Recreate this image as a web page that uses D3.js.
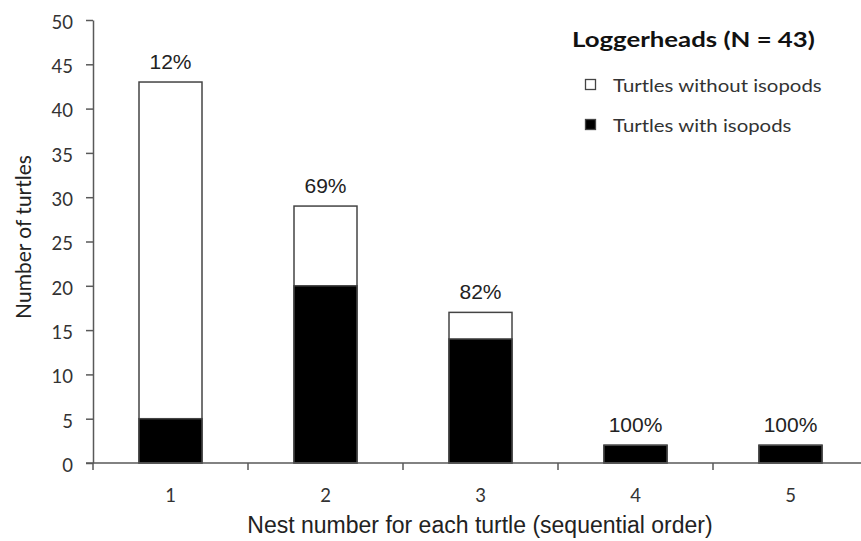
<!DOCTYPE html>
<html>
<head>
<meta charset="utf-8">
<script src="https://cdn.jsdelivr.net/npm/d3@7"></script>
<style>
  body { margin: 0; background: #fff; }
  svg { display: block; }
</style>
</head>
<body>
<script>
// Chart size
const width = 861;
const height = 541;

// Nest number (sequential order)
const nests = ["1", "2", "3", "4", "5"];
// Total turtles per nest number
const totals = [43, 29, 17, 2, 2];
// Turtles with isopods per nest number
const withIsopods = [5, 20, 14, 2, 2];
// Percent labels shown above bars
const pctLabels = ["12%", "69%", "82%", "100%", "100%"];
// Y-axis ticks
const yTicks = [0, 5, 10, 15, 20, 25, 30, 35, 40, 45, 50];

const AXIS_COLOR = "#595959";
const BAR_STROKE = "#444";
const SANS = "'Liberation Sans', Arial, sans-serif";
const CAL = "Lato, 'Open Sans', sans-serif";
const BAR_W = 63;

const svg = d3.select("body").append("svg")
    .attr("width", width)
    .attr("height", height);

// Bands of ~155px starting at the y axis (axis runs off the right edge)
const band = d3.scaleBand().domain(nests).range([93, 868]);
const y = d3.scaleLinear().domain([0, 50]).range([463, 20]);
const cx = d => band(d) + band.bandwidth() / 2;

// Bars: total (white) then isopods (black) on top
const bars = svg.append("g");
bars.selectAll("rect.total")
    .data(nests)
    .join("rect")
    .attr("class", "total")
    .attr("x", d => cx(d) - BAR_W / 2)
    .attr("width", BAR_W)
    .attr("y", (d, i) => y(totals[i]))
    .attr("height", (d, i) => y(0) - y(totals[i]))
    .attr("fill", "#fff")
    .attr("stroke", BAR_STROKE)
    .attr("stroke-width", 1.5);

bars.selectAll("rect.iso")
    .data(nests)
    .join("rect")
    .attr("class", "iso")
    .attr("x", d => cx(d) - BAR_W / 2)
    .attr("width", BAR_W)
    .attr("y", (d, i) => y(withIsopods[i]))
    .attr("height", (d, i) => y(0) - y(withIsopods[i]))
    .attr("fill", "#000")
    .attr("stroke", BAR_STROKE)
    .attr("stroke-width", 1.5);

// Percent labels
svg.append("g").selectAll("text")
    .data(nests)
    .join("text")
    .attr("x", cx)
    .attr("y", (d, i) => y(totals[i]) - 13)
    .attr("text-anchor", "middle")
    .attr("font-family", SANS)
    .attr("font-size", 21)
    .attr("fill", "#222")
    .text((d, i) => pctLabels[i]);

// Y axis
const yAxis = svg.append("g")
    .attr("transform", "translate(93,0)")
    .call(d3.axisLeft(y).tickValues(yTicks).tickSize(7).tickSizeOuter(0));
yAxis.select(".domain").attr("stroke", AXIS_COLOR).attr("stroke-width", 1.5);
yAxis.selectAll(".tick line").attr("stroke", AXIS_COLOR).attr("stroke-width", 1.5);
yAxis.selectAll(".tick text")
    .attr("font-family", CAL)
    .attr("font-size", 18.5)
    .attr("fill", "#333")
    .attr("x", -20)
    .attr("dy", "0.45em");

// X axis: ticks at band boundaries, labels centred in bands
const xAxisG = svg.append("g").attr("transform", `translate(0,${y(0)})`);
xAxisG.append("line")
    .attr("x1", 86).attr("x2", width)
    .attr("stroke", AXIS_COLOR).attr("stroke-width", 1.5);
xAxisG.selectAll("line.tk")
    .data(nests)
    .join("line")
    .attr("class", "tk")
    .attr("x1", d => band(d)).attr("x2", d => band(d))
    .attr("y1", 0).attr("y2", 7)
    .attr("stroke", AXIS_COLOR).attr("stroke-width", 1.5);
xAxisG.selectAll("text")
    .data(nests)
    .join("text")
    .attr("x", cx)
    .attr("y", 39)
    .attr("text-anchor", "middle")
    .attr("font-family", CAL)
    .attr("font-size", 18.5)
    .attr("fill", "#333")
    .text(d => d);

// Axis titles
svg.append("text")
    .attr("x", 480)
    .attr("y", 533)
    .attr("text-anchor", "middle")
    .attr("font-family", SANS)
    .attr("font-size", 23)
    .attr("fill", "#222")
    .text("Nest number for each turtle (sequential order)");

svg.append("text")
    .attr("transform", "translate(31,237) rotate(-90)")
    .attr("text-anchor", "middle")
    .attr("font-family", CAL)
    .attr("font-size", 21)
    .attr("fill", "#222")
    .text("Number of turtles");

// Legend (text slightly stretched horizontally like the reference)
const legend = svg.append("g");
legend.append("text")
    .attr("transform", "translate(572,47) scale(1.2,1)")
    .attr("font-family", CAL)
    .attr("font-weight", "bold")
    .attr("font-size", 21.5)
    .attr("fill", "#111")
    .text("Loggerheads (N = 43)");

const legendItems = [
    { label: "Turtles without isopods", fill: "#fff", y: 92 },
    { label: "Turtles with isopods", fill: "#000", y: 132 }
];
legendItems.forEach(item => {
    legend.append("rect")
        .attr("x", 585.5).attr("y", item.y - 12.5)
        .attr("width", 10).attr("height", 10)
        .attr("fill", item.fill)
        .attr("stroke", BAR_STROKE)
        .attr("stroke-width", 1.3);
    legend.append("text")
        .attr("transform", `translate(613,${item.y}) scale(1.12,1)`)
        .attr("font-family", CAL)
        .attr("font-size", 18.2)
        .attr("fill", "#333")
        .text(item.label);
});
</script>
</body>
</html>
